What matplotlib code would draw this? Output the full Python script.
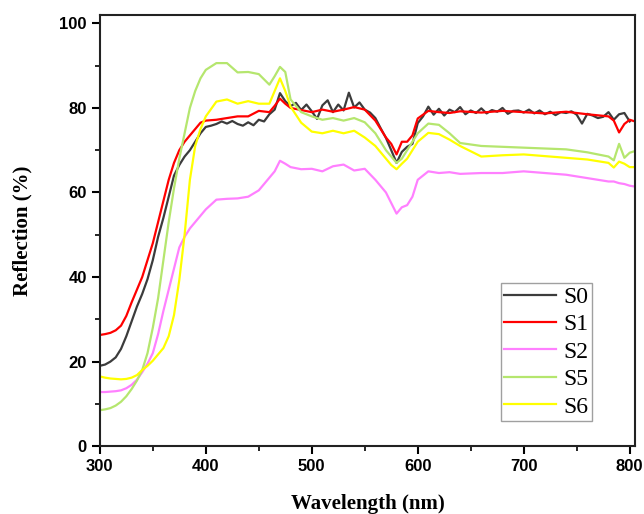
import matplotlib.pyplot as plt
from matplotlib.ticker import MultipleLocator

# S0 - noisy measured curve, 5 nm step (300..800)
wl_s0 = list(range(300, 805, 5))
s0 = [19.0, 19.3, 20.0, 21.0, 23.0, 26.0, 29.5, 33.0, 36.0, 39.5,
      44.0, 49.5, 54.0, 59.0, 64.0, 66.5, 68.5, 70.0, 72.0, 74.0,
      75.5, 75.8, 76.2, 76.8, 76.3, 76.9, 76.2, 75.8, 76.6, 75.9,
      77.2, 76.8, 78.5, 79.6, 83.5, 81.6, 80.4, 81.2, 79.5, 80.8,
      79.2, 77.4, 80.6, 81.8, 79.0, 80.8, 79.4, 83.6, 80.1, 81.3,
      79.6, 78.9, 77.6, 75.2, 72.9, 70.0, 67.0, 69.6, 70.8, 71.5,
      76.4, 78.0, 80.3, 78.4, 79.8, 78.2, 79.6, 79.0, 80.2, 78.5,
      79.4, 78.8, 79.9, 78.7, 79.5, 79.1, 80.0, 78.6, 79.3, 79.4,
      78.9, 79.6, 78.7, 79.4, 78.5, 79.1, 78.3, 79.0, 78.8, 79.2,
      78.4, 76.3, 78.6, 78.2, 77.6, 77.9, 79.0, 77.2, 78.5, 78.8,
      76.8]

wl = [300, 305, 310, 315, 320, 325, 330, 335, 340, 345, 350, 355, 360, 365,
      370, 375, 380, 385, 390, 395, 400,
      410, 420, 430, 440, 450, 460, 465, 470, 475, 480, 490, 500, 510, 520,
      530, 540, 550, 560, 570, 575, 580, 585, 590, 595, 600,
      610, 620, 630, 640, 660, 680, 700, 720, 740, 760, 780, 785, 790, 795,
      800, 805]

s1 = [26.3, 26.5, 26.8, 27.4, 28.5, 30.8, 34.0, 37.0, 40.0, 44.0, 48.0, 53.0,
      58.0, 63.0, 67.0, 70.0, 72.0, 73.5, 75.0, 76.5, 77.0,
      77.2, 77.6, 78.0, 78.0, 79.3, 79.0, 80.5, 82.2, 81.0, 80.0, 79.5, 79.0,
      79.6, 79.1, 79.6, 80.2, 79.6, 77.0, 73.0, 71.5, 69.0, 72.0, 72.0, 73.5,
      77.5,
      79.3, 79.0, 78.8, 79.2, 78.9, 79.3, 79.0, 78.7, 79.1, 78.5, 78.0, 77.0,
      74.2, 76.2, 77.2, 76.8]

s2 = [12.8, 12.8, 12.9, 13.0, 13.2, 13.7, 14.5, 15.7, 17.5, 19.5, 22.0, 26.5,
      32.0, 37.0, 42.0, 47.0, 49.5, 51.5, 53.0, 54.5, 56.0,
      58.3, 58.5, 58.6, 59.0, 60.5, 63.5, 65.0, 67.5, 66.8, 66.0, 65.5, 65.6,
      65.0, 66.2, 66.6, 65.2, 65.6, 63.0, 60.0, 57.5, 55.0, 56.5, 57.0, 59.0,
      63.0,
      65.0, 64.6, 64.8, 64.4, 64.6, 64.6, 65.0, 64.6, 64.2, 63.4, 62.6, 62.6,
      62.2, 62.0, 61.6, 61.4]

s5 = [8.5, 8.7, 9.0, 9.6, 10.5, 11.8, 13.5, 15.5, 18.0, 22.0, 28.0, 35.0,
      44.0, 53.0, 61.0, 68.0, 74.0, 80.0, 84.0, 87.0, 89.0,
      90.6, 90.6, 88.4, 88.5, 88.0, 85.5, 87.5, 89.7, 88.5, 82.0, 79.0, 78.0,
      77.2, 77.6, 77.0, 77.6, 76.6, 74.0, 70.0, 68.5, 67.0, 68.0, 70.0, 72.0,
      74.0,
      76.3, 76.0, 74.0, 71.7, 71.0, 70.8, 70.6, 70.4, 70.2, 69.5, 68.5, 67.6,
      71.5, 68.2, 69.4, 69.8]

s6 = [16.5, 16.2, 16.0, 15.9, 15.8, 15.9, 16.2, 16.8, 18.0, 19.0, 20.2, 21.7,
      23.2, 26.0, 31.0, 39.3, 50.0, 63.0, 71.0, 75.0, 78.0,
      81.5, 82.0, 81.0, 81.6, 81.0, 81.0, 84.0, 87.0, 84.0, 80.3, 76.5, 74.4,
      74.0, 74.6, 74.0, 74.6, 73.0, 71.0, 68.0, 66.5, 65.5, 66.8, 68.0, 70.0,
      72.0,
      74.1, 73.8, 72.5, 71.0, 68.5, 68.8, 69.0, 68.6, 68.2, 67.8, 67.0, 65.9,
      67.3, 66.8, 66.0, 66.0]

labels = ['S0', 'S1', 'S2', 'S5', 'S6']
colors = ['#3c3c3c', '#ff0000', '#ff80ff', '#b5e66e', '#ffff00']

fig = plt.figure(figsize=(6.44, 5.14), dpi=100)
ax = fig.add_axes([0.155, 0.132, 0.831, 0.839])

ax.plot(wl_s0, s0, color=colors[0], lw=1.6, label=labels[0])
ax.plot(wl, s1, color=colors[1], lw=1.6, label=labels[1])
ax.plot(wl, s2, color=colors[2], lw=1.6, label=labels[2])
ax.plot(wl, s5, color=colors[3], lw=1.6, label=labels[3])
ax.plot(wl, s6, color=colors[4], lw=1.6, label=labels[4])

ax.set_xlim(300, 805)
ax.set_ylim(0, 102)
ax.xaxis.set_major_locator(MultipleLocator(100))
ax.xaxis.set_minor_locator(MultipleLocator(50))
ax.yaxis.set_major_locator(MultipleLocator(20))
ax.yaxis.set_minor_locator(MultipleLocator(10))
ax.tick_params(which='major', direction='out', length=6, width=1.5)
ax.tick_params(which='minor', direction='out', length=3.5, width=1.2)
for lab in ax.get_xticklabels() + ax.get_yticklabels():
    lab.set_family('Liberation Sans')
    lab.set_fontweight('bold')
    lab.set_fontsize(12)
for sp in ax.spines.values():
    sp.set_linewidth(1.5)
    sp.set_color('#222222')

ax.set_xlabel('Wavelength (nm)', family='Liberation Serif', fontweight='bold',
              fontsize=15, labelpad=14)
ax.set_ylabel('Reflection (%)', family='Liberation Serif', fontweight='bold',
              fontsize=15, labelpad=19)

leg = ax.legend(loc='lower right', bbox_to_anchor=(0.92, 0.058),
                prop={'family': 'Liberation Serif', 'size': 17},
                fancybox=False, edgecolor='#888888', handlelength=2.2,
                handletextpad=0.3, labelspacing=0.25, borderpad=0.15,
                borderaxespad=0)
leg.get_frame().set_linewidth(1.0)

fig.savefig('out.png', dpi=100)
